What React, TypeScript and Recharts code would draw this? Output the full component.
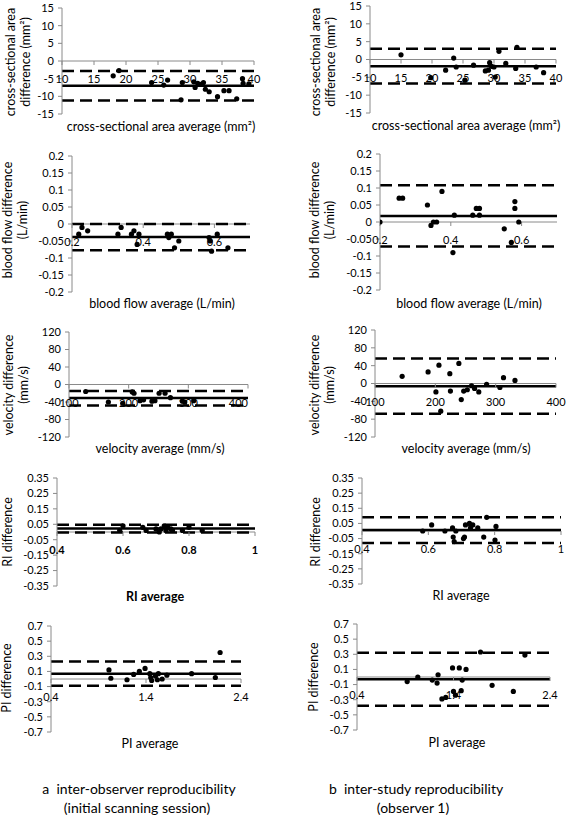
import { ScatterChart, Scatter, XAxis, YAxis, ReferenceLine, ReferenceDot } from 'recharts';

const FONT = 'Lato, "Liberation Sans", sans-serif';
const AXIS = '#8a8a8a';
const INK = '#000';

// axis ticks
const csaTicksX = [10, 15, 20, 25, 30, 35, 40];
const csaTicksY = [-15, -10, -5, 0, 5, 10, 15];
const flowTicksX = [0.2, 0.4, 0.6];
const flowTicksY = [-0.2, -0.15, -0.1, -0.05, 0, 0.05, 0.1, 0.15, 0.2];
const velTicksX = [100, 200, 300, 400];
const velTicksY = [-120, -80, -40, 0, 40, 80, 120];
const riTicksX = [0.4, 0.6, 0.8, 1];
const riTicksY = [-0.35, -0.25, -0.15, -0.05, 0.05, 0.15, 0.25, 0.35];
const piTicksX = [0.4, 1.4, 2.4];
const piTicksY = [-0.7, -0.5, -0.3, -0.1, 0.1, 0.3, 0.5, 0.7];

type Pt = [number, number];

// [average, difference]
const csaInter: Pt[] = [
  [18.0, -4.2], [18.9, -2.7], [24.0, -6.1], [25.9, -6.8], [26.5, -5.4], [28.6, -11.0], [28.8, -6.1],
  [30.6, -5.9], [30.8, -7.5], [31.2, -6.3], [31.6, -6.6], [32.1, -6.1], [32.4, -8.0], [33.0, -8.7],
  [34.3, -10.1], [35.3, -8.4], [36.1, -8.4], [37.3, -10.7], [38.2, -5.0], [38.3, -6.3], [39.2, -6.5],
];
const csaStudy: Pt[] = [
  [15.0, 1.3], [19.8, -5.1], [22.2, -3.0], [23.5, 0.4], [23.9, -2.1], [25.3, -5.8], [26.7, -1.6],
  [28.6, -3.2], [29.1, -3.0], [29.3, -0.9], [29.6, -1.9], [30.0, -2.1], [30.2, -4.9], [30.8, 2.3],
  [31.9, -1.1], [33.5, -2.5], [33.7, 3.4], [36.8, -2.1], [38.0, -3.7],
];
const flowInter: Pt[] = [
  [0.219, -0.03], [0.228, -0.01], [0.244, -0.02], [0.329, -0.03], [0.338, -0.01], [0.367, -0.03],
  [0.374, -0.02], [0.383, -0.06], [0.388, -0.03], [0.468, -0.03], [0.472, -0.04], [0.479, -0.03],
  [0.488, -0.07], [0.5, -0.05], [0.585, -0.04], [0.588, -0.05], [0.592, -0.08], [0.608, -0.03], [0.638, -0.07],
];
const flowStudy: Pt[] = [
  [0.2, 0], [0.254, 0.07], [0.264, 0.07], [0.334, 0.05], [0.344, -0.01], [0.351, 0], [0.36, 0],
  [0.375, 0.09], [0.406, -0.09], [0.41, 0.02], [0.462, 0.02], [0.472, 0.04], [0.481, 0.04], [0.481, 0.02],
  [0.551, -0.02], [0.571, -0.06], [0.581, 0.06], [0.581, 0.04], [0.592, 0],
];
const velInter: Pt[] = [
  [128, -16], [166, -40], [190, -43], [206, -17], [209, -20], [219, -37], [225, -35], [239, -38],
  [244, -37], [251, -20], [261, -20], [270, -30], [290, -38], [294, -40], [309, -37],
];
const velStudy: Pt[] = [
  [145, 16], [188, 26], [201, -19], [206, 41], [209, -62], [224, 22], [225, -17], [239, 45], [243, -36],
  [247, -17], [253, -14], [260, -5], [265, -11], [272, -19], [285, -2], [307, -9], [313, 13], [332, 7],
];
const riInter: Pt[] = [
  [0.59, 0.01], [0.6, 0.04], [0.66, 0.03], [0.67, 0.01], [0.7, 0.02], [0.71, 0], [0.715, 0.02],
  [0.725, 0.04], [0.73, 0.01], [0.735, 0.03], [0.745, 0.02], [0.75, 0.01], [0.78, 0.01], [0.8, 0.03], [0.84, 0.01],
];
const riStudy: Pt[] = [
  [0.583, 0], [0.61, 0.04], [0.65, 0], [0.673, 0.02], [0.675, -0.04], [0.678, -0.07], [0.683, 0],
  [0.706, -0.05], [0.709, -0.04], [0.712, 0.04], [0.724, 0.05], [0.727, 0.02], [0.734, 0.04],
  [0.749, 0.02], [0.767, -0.04], [0.776, 0.09], [0.801, -0.06], [0.804, 0.03],
];
const piInter: Pt[] = [
  [1.01, 0.12], [1.03, 0.01], [1.2, -0.01], [1.27, 0.06], [1.33, 0.1], [1.39, 0.14], [1.44, 0.07],
  [1.45, 0.02], [1.46, -0.02], [1.5, 0.04], [1.52, -0.01], [1.53, 0.07], [1.57, 0], [1.62, 0.05],
  [1.88, 0.07], [2.13, 0.02], [2.18, 0.35],
];
const piStudy: Pt[] = [
  [0.92, -0.06], [1.03, 0], [1.18, -0.04], [1.23, -0.08], [1.24, 0.03], [1.28, -0.29], [1.32, -0.27],
  [1.39, 0.12], [1.4, -0.19], [1.42, -0.24], [1.46, 0.12], [1.48, -0.18], [1.49, -0.04], [1.53, 0.1],
  [1.68, 0.33], [1.8, -0.11], [2.02, -0.19], [2.14, 0.29],
];

// [mean difference, upper limit, lower limit]
const csaInterLoa = [-7.0, -2.8, -11.2];
const csaStudyLoa = [-1.9, 3.0, -6.7];
const flowInterLoa = [-0.038, 0.0, -0.077];
const flowStudyLoa = [0.018, 0.108, -0.072];
const velInterLoa = [-31, -15, -48];
const velStudyLoa = [-6, 56, -68];
const riInterLoa = [0.022, 0.047, -0.003];
const riStudyLoa = [0.006, 0.09, -0.08];
const piInterLoa = [0.07, 0.23, -0.09];
const piStudyLoa = [-0.03, 0.32, -0.38];

const fmt = (v: number) => `${+Number(v).toFixed(2)}`;

type Box = { x0: number; y0: number; x1: number; y1: number };

interface PanelProps {
  box: Box;
  xDomain: [number, number];
  yDomain: [number, number];
  xTicks: number[];
  yTicks: number[];
  points: Pt[];
  loa: number[];
  boldX?: boolean;
  endLast?: boolean;
}

const YW = 44;
const PAD = 8;
const PAD_R = 18;

function Panel({ box, xDomain, yDomain, xTicks, yTicks, points, loa, boldX, endLast }: PanelProps) {
  const data = points.map(([x, y]) => ({ x, y }));
  const [mean, upper, lower] = loa;
  const w = YW + box.x1 - box.x0 + PAD_R;
  const h = box.y1 - box.y0 + PAD * 2;
  return (
    <div style={{ position: 'absolute', left: box.x0 - YW, top: box.y0 - PAD }}>
      <ScatterChart width={w} height={h} margin={{ top: PAD, right: PAD_R, bottom: PAD, left: 0 }}>
        <XAxis type="number" dataKey="x" domain={xDomain} hide allowDataOverflow />
        <YAxis
          type="number"
          dataKey="y"
          domain={yDomain}
          ticks={yTicks}
          interval={0}
          width={YW}
          allowDataOverflow
          stroke={AXIS}
          tickSize={4}
          tickMargin={4}
          tick={{ fill: INK, fontSize: 11, fontFamily: FONT }}
          tickFormatter={fmt}
        />
        <ReferenceLine y={0} stroke={AXIS} strokeWidth={1} />
        <ReferenceLine y={upper} stroke="#000" strokeWidth={2.5} strokeDasharray="12 6" />
        <ReferenceLine y={lower} stroke="#000" strokeWidth={2.5} strokeDasharray="12 6" />
        <ReferenceLine y={mean} stroke="#000" strokeWidth={2.5} />
        {xTicks.map((t, i) => {
          const isLast = endLast && i === xTicks.length - 1;
          return (
            <ReferenceDot
              key={t}
              x={t}
              y={0}
              r={1}
              shape={(p: any) => (
                <g>
                  <line x1={p.cx} x2={p.cx} y1={p.cy} y2={p.cy + 4} stroke={AXIS} />
                  <text
                    x={p.cx}
                    y={p.cy + 22}
                    textAnchor={isLast ? 'end' : 'middle'}
                    fontSize={11}
                    fontFamily={FONT}
                    fontWeight={boldX ? 700 : 400}
                    fill={INK}
                  >
                    {fmt(t)}
                  </text>
                </g>
              )}
            />
          );
        })}
        <Scatter
          data={data}
          isAnimationActive={false}
          shape={(p: any) => <circle cx={p.cx} cy={p.cy} r={2.6} fill="#000" />}
        />
      </ScatterChart>
    </div>
  );
}

function YTitle({ cx, cy, lines }: { cx: number; cy: number; lines: string[] }) {
  return (
    <div
      style={{
        position: 'absolute',
        left: cx,
        top: cy,
        transform: 'translate(-50%, -50%) rotate(-90deg)',
        whiteSpace: 'nowrap',
        textAlign: 'center',
        fontSize: 12.5,
        lineHeight: '15px',
      }}
    >
      {lines.map((l) => (
        <div key={l}>{l}</div>
      ))}
    </div>
  );
}

function Text({ cx, cy, text, size = 12.5, bold = false }: { cx: number; cy: number; text: string; size?: number; bold?: boolean }) {
  return (
    <div
      style={{
        position: 'absolute',
        left: cx,
        top: cy,
        transform: 'translate(-50%, -50%)',
        whiteSpace: 'pre',
        fontSize: size,
        fontWeight: bold ? 700 : 400,
      }}
    >
      {text}
    </div>
  );
}

export default function App() {
  return (
    <div
      style={{
        position: 'absolute',
        left: 0,
        top: 0,
        width: 567,
        height: 815,
        background: '#fff',
        overflow: 'hidden',
        fontFamily: FONT,
        color: INK,
      }}
    >
      <Panel box={{ x0: 62, y0: 8, x1: 254, y1: 114 }} xDomain={[10, 40]} yDomain={[-15, 15]}
        xTicks={csaTicksX} yTicks={csaTicksY} points={csaInter} loa={csaInterLoa} />
      <Panel box={{ x0: 370, y0: 6, x1: 556, y1: 113 }} xDomain={[10, 40]} yDomain={[-15, 15]}
        xTicks={csaTicksX} yTicks={csaTicksY} points={csaStudy} loa={csaStudyLoa} />
      <Panel box={{ x0: 72, y0: 156, x1: 250, y1: 292 }} xDomain={[0.2, 0.7]} yDomain={[-0.2, 0.2]}
        xTicks={flowTicksX} yTicks={flowTicksY} points={flowInter} loa={flowInterLoa} />
      <Panel box={{ x0: 380, y0: 154, x1: 557, y1: 290 }} xDomain={[0.2, 0.7]} yDomain={[-0.2, 0.2]}
        xTicks={flowTicksX} yTicks={flowTicksY} points={flowStudy} loa={flowStudyLoa} />
      <Panel box={{ x0: 69, y0: 332, x1: 248, y1: 437 }} xDomain={[100, 400]} yDomain={[-120, 120]}
        xTicks={velTicksX} yTicks={velTicksY} points={velInter} loa={velInterLoa} endLast />
      <Panel box={{ x0: 375, y0: 330, x1: 556, y1: 437 }} xDomain={[100, 400]} yDomain={[-120, 120]}
        xTicks={velTicksX} yTicks={velTicksY} points={velStudy} loa={velStudyLoa} />
      <Panel box={{ x0: 57, y0: 478, x1: 255, y1: 586 }} xDomain={[0.4, 1]} yDomain={[-0.35, 0.35]}
        xTicks={riTicksX} yTicks={riTicksY} points={riInter} loa={riInterLoa} boldX />
      <Panel box={{ x0: 362, y0: 478, x1: 561, y1: 584 }} xDomain={[0.4, 1]} yDomain={[-0.35, 0.35]}
        xTicks={riTicksX} yTicks={riTicksY} points={riStudy} loa={riStudyLoa} />
      <Panel box={{ x0: 51, y0: 626, x1: 241, y1: 732 }} xDomain={[0.4, 2.4]} yDomain={[-0.7, 0.7]}
        xTicks={piTicksX} yTicks={piTicksY} points={piInter} loa={piInterLoa} />
      <Panel box={{ x0: 357, y0: 624, x1: 550, y1: 730 }} xDomain={[0.4, 2.4]} yDomain={[-0.7, 0.7]}
        xTicks={piTicksX} yTicks={piTicksY} points={piStudy} loa={piStudyLoa} />

      <YTitle cx={17.5} cy={62} lines={['cross-sectional area', 'difference (mm²)']} />
      <YTitle cx={322.5} cy={62} lines={['cross-sectional area', 'difference (mm²)']} />
      <YTitle cx={15} cy={220} lines={['blood flow difference', '(L/min)']} />
      <YTitle cx={322} cy={220} lines={['blood flow difference', '(L/min)']} />
      <YTitle cx={15.5} cy={385} lines={['velocity difference', '(mm/s)']} />
      <YTitle cx={322} cy={385} lines={['velocity difference', '(mm/s)']} />
      <YTitle cx={7} cy={532} lines={['RI difference']} />
      <YTitle cx={315} cy={532} lines={['RI difference']} />
      <YTitle cx={6} cy={678} lines={['PI difference']} />
      <YTitle cx={313} cy={677} lines={['PI difference']} />

      <Text cx={161} cy={126} text="cross-sectional area average (mm²)" />
      <Text cx={466} cy={125} text="cross-sectional area average (mm²)" />
      <Text cx={162} cy={303} text="blood flow average (L/min)" />
      <Text cx={469} cy={303} text="blood flow average (L/min)" />
      <Text cx={160} cy={448} text="velocity average (mm/s)" />
      <Text cx={466} cy={448} text="velocity average (mm/s)" />
      <Text cx={155} cy={596} text="RI average" bold />
      <Text cx={461} cy={595} text="RI average" />
      <Text cx={150} cy={743} text="PI average" />
      <Text cx={457} cy={742} text="PI average" />

      <Text cx={139} cy={788} text="a  inter-observer reproducibility" size={14} />
      <Text cx={137} cy={807} text="(initial scanning session)" size={14} />
      <Text cx={416} cy={788} text="b  inter-study reproducibility" size={14} />
      <Text cx={413} cy={807} text="(observer 1)" size={14} />
    </div>
  );
}
